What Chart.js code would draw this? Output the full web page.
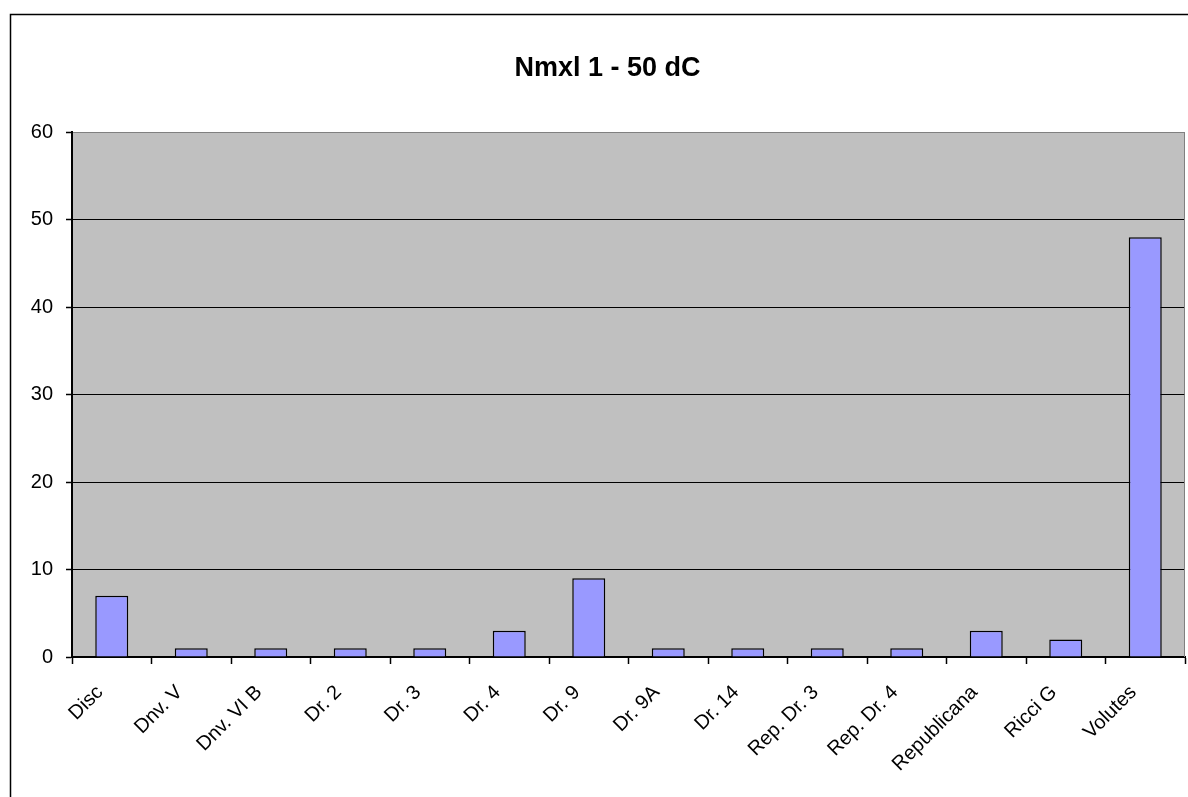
<!DOCTYPE html>
<html>
<head>
<meta charset="utf-8">
<script src="https://cdn.jsdelivr.net/npm/chart.js@4/dist/chart.umd.min.js"></script>
<style>
  html, body { margin: 0; padding: 0; background: #fff; }
  #wrap { width: 1188px; height: 797px; position: relative; }
</style>
</head>
<body>
<div id="wrap"><canvas id="chart" width="1188" height="797"></canvas></div>
<script>
// Data
const categories = ['Disc', 'Dnv. V', 'Dnv. VI B', 'Dr. 2', 'Dr. 3', 'Dr. 4', 'Dr. 9', 'Dr. 9A', 'Dr. 14', 'Rep. Dr. 3', 'Rep. Dr. 4', 'Republicana', 'Ricci G', 'Volutes'];
const counts = [7, 1, 1, 1, 1, 3, 9, 1, 1, 1, 1, 3, 2, 48];
const yTicks = [0, 10, 20, 30, 40, 50, 60];
const chartTitle = 'Nmxl 1 - 50 dC';

const FONT = "'Liberation Sans', Arial, sans-serif";

// Plot background + chart frame (Excel style)
const framePlugin = {
    id: 'frame',
    beforeDraw(chart) {
        const { ctx, chartArea: a } = chart;
        ctx.save();
        ctx.fillStyle = '#fff';
        ctx.fillRect(0, 0, chart.width, chart.height);
        ctx.fillStyle = '#C0C0C0';
        ctx.fillRect(a.left, a.top, a.right - a.left, a.bottom - a.top);
        // outer border
        ctx.strokeStyle = '#000';
        ctx.lineWidth = 1.5;
        ctx.beginPath();
        ctx.moveTo(10.5, chart.height + 2);
        ctx.lineTo(10.5, 14.5);
        ctx.lineTo(chart.width + 2, 14.5);
        ctx.stroke();
        ctx.restore();
    },
    afterDatasetsDraw(chart) {
        const { ctx, chartArea: a } = chart;
        ctx.save();
        ctx.strokeStyle = '#808080';
        ctx.lineWidth = 1;
        ctx.beginPath();
        ctx.moveTo(a.right - 0.5, a.top);
        ctx.lineTo(a.right - 0.5, a.bottom);
        ctx.stroke();
        ctx.restore();
    }
};

new Chart(document.getElementById('chart'), {
    type: 'bar',
    data: {
        labels: categories,
        datasets: [{
            data: counts,
            backgroundColor: '#9999FF',
            borderColor: '#000',
            borderWidth: 1.5,
            categoryPercentage: 1,
            barPercentage: 0.415
        }]
    },
    options: {
        responsive: false,
        animation: false,
        layout: { padding: { left: 30, right: 3, top: 0, bottom: 0 } },
        plugins: {
            legend: { display: false },
            tooltip: { enabled: false },
            title: {
                display: true,
                text: chartTitle,
                color: '#000',
                font: { family: FONT, size: 27, weight: 'bold' },
                padding: { top: 52, bottom: 48 }
            }
        },
        scales: {
            x: {
                offset: true,
                grid: {
                    offset: true,
                    drawOnChartArea: false,
                    drawTicks: true,
                    tickLength: 7,
                    tickColor: '#000',
                    tickWidth: 1.5
                },
                border: { color: '#000', width: 2 },
                ticks: {
                    color: '#000',
                    font: { family: FONT, size: 20 },
                    minRotation: 45,
                    maxRotation: 45,
                    autoSkip: false,
                    padding: 5,
                    // trailing gap pushes rotated labels down-left like Excel
                    callback(value) { return this.getLabelForValue(value) + '   '; }
                },
                afterFit(scale) { scale.height = 140; }
            },
            y: {
                min: 0,
                max: 60,
                afterBuildTicks(scale) { scale.ticks = yTicks.map(v => ({ value: v })); },
                grid: {
                    color: ctx => (ctx.tick && ctx.tick.value === 60) ? '#808080' : '#000',
                    lineWidth: 1,
                    drawTicks: true,
                    tickLength: 6,
                    tickColor: '#000',
                    tickWidth: 1.5
                },
                border: { color: '#000', width: 2 },
                ticks: {
                    color: '#000',
                    font: { family: FONT, size: 20 },
                    padding: 13
                },
                afterFit(scale) { scale.width = 42; }
            }
        }
    },
    plugins: [framePlugin]
});
</script>
</body>
</html>
